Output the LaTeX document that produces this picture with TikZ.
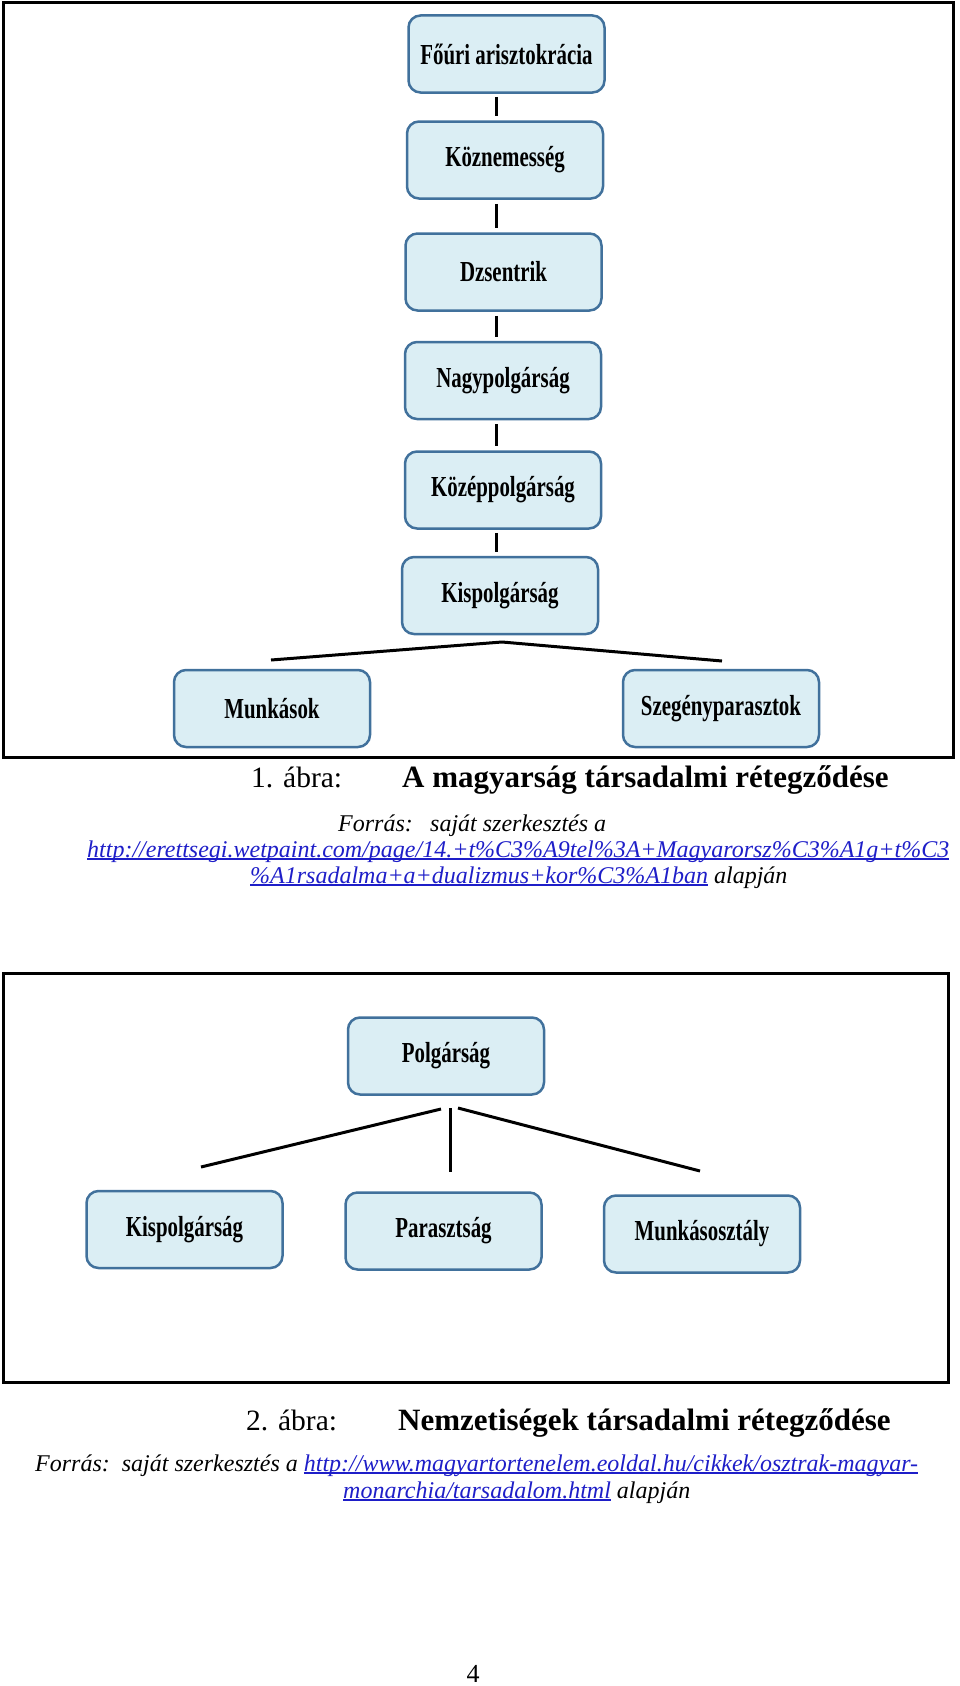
\documentclass[tikz,border=0pt]{standalone}
\usepackage{fontspec}
\setmainfont{Liberation Serif}
\newfontfamily\boxfont[FakeStretch=0.72]{Liberation Serif}
\definecolor{boxfill}{RGB}{219,238,244}
\definecolor{boxline}{RGB}{65,113,156}
\definecolor{linkblue}{RGB}{30,30,200}
\newcommand{\lk}[1]{{\color{linkblue}\setbox0\hbox{#1}\rlap{\rule[-2.5pt]{\wd0}{1.2pt}}\box0}}
\begin{document}
\begin{tikzpicture}[x=1pt,y=-1pt,
  layer/.style={draw=boxline, line width=2.5pt, fill=boxfill, rounded corners=12pt,
    minimum width=196pt, minimum height=77pt, inner sep=0pt,
    font=\boxfont\bfseries\fontsize{29}{34}\selectfont},
  conn/.style={line width=3pt, black},
  frm/.style={draw=black, line width=3pt},
  captxt/.style={anchor=base west, inner sep=0pt, font=\fontsize{29.5}{36}\selectfont},
  capbold/.style={anchor=base west, inner sep=0pt, font=\bfseries\fontsize{31}{36}\selectfont},
  srctxt/.style={anchor=base west, inner sep=0pt, font=\itshape\fontsize{24}{26}\selectfont}]
\useasboundingbox (0,0) rectangle (960,1686);
% frames
\draw[frm] (3,3) rectangle (953,757);
\draw[frm] (3,973) rectangle (948,1382);
% figure 1 nodes
\node[layer] (f1) at (506.5,54) {Főúri arisztokrácia};
\node[layer] (f2) at (505,160) {Köznemesség};
\node[layer] (f3) at (503.5,272) {Dzsentrik};
\node[layer] (f4) at (503,380.5) {Nagypolgárság};
\node[layer] (f5) at (503,490) {Középpolgárság};
\node[layer] (f6) at (500,595.5) {Kispolgárság};
\node[layer] (mu) at (272,708.5) {Munkások};
\node[layer] (sz) at (721,708.5) {Szegényparasztok};
\coordinate (lx) at (496,0);
\draw[conn] ([yshift=-3pt]f1.south -| lx) -- ([yshift=4pt]f2.north -| lx);
\draw[conn] ([yshift=-4pt]f2.south -| lx) -- ([yshift=4pt]f3.north -| lx);
\draw[conn] ([yshift=-4pt]f3.south -| lx) -- ([yshift=4pt]f4.north -| lx);
\draw[conn] ([yshift=-4pt]f4.south -| lx) -- ([yshift=4pt]f5.north -| lx);
\draw[conn] ([yshift=-3pt]f5.south -| lx) -- ([yshift=4pt]f6.north -| lx);
\coordinate (pk) at (502,642);
\coordinate (le) at (271,660);
\coordinate (re) at (722,661);
\draw[conn] (le) -- (pk) -- (re);
% figure 2 nodes
\node[layer] (po) at (446,1056) {Polgárság};
\node[layer] (ki) at (184.5,1229.5) {Kispolgárság};
\node[layer] (pa) at (443.5,1231) {Parasztság};
\node[layer] (mo) at (702,1234) {Munkásosztály};
\coordinate (tl) at (441,1109);
\coordinate (tm) at (450,1108);
\coordinate (tr) at (458,1108);
\coordinate (bl) at (201,1167);
\coordinate (bm) at (450,1172);
\coordinate (br) at (700,1171);
\draw[conn] (tl) -- (bl);
\draw[conn] (tm) -- (bm);
\draw[conn] (tr) -- (br);
% captions
\node[captxt] (c1a) at (251,787) {1. ábra:};
\node[capbold] (c1b) at (402,787) {A magyarság társadalmi rétegződése};
\node[srctxt] (s1a) at (338,831) {Forrás:};
\node[srctxt] (s1b) at (430,831) {saját szerkesztés a};
\node[srctxt] (s1c) at (87,857) {\lk{http://erettsegi.wetpaint.com/page/14.+t\%C3\%A9tel\%3A+Magyarorsz\%C3\%A1g+t\%C3}};
\node[srctxt] (s1d) at (250,883) {\lk{\%A1rsadalma+a+dualizmus+kor\%C3\%A1ban} alapján};
\node[captxt] (c2a) at (246,1430) {2. ábra:};
\node[capbold] (c2b) at (398,1430) {Nemzetiségek társadalmi rétegződése};
\node[srctxt] (s2a) at (35,1471) {Forrás:\ \ saját szerkesztés a \lk{http://www.magyartortenelem.eoldal.hu/cikkek/osztrak-magyar-}};
\node[srctxt] (s2b) at (343,1498) {\lk{monarchia/tarsadalom.html} alapján};
\node[anchor=base, inner sep=0pt, font=\fontsize{26}{30}\selectfont] (pg) at (473,1682) {4};
\end{tikzpicture}
\end{document}
